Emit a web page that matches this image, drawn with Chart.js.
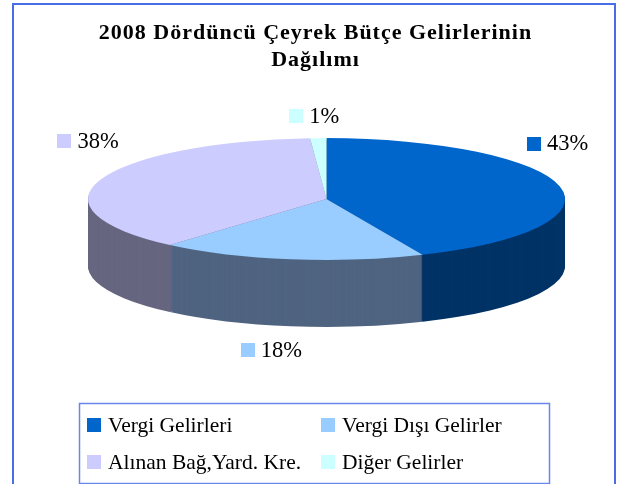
<!DOCTYPE html>
<html><head><meta charset="utf-8">
<script src="https://cdn.jsdelivr.net/npm/chart.js@4.4.0/dist/chart.umd.min.js"></script>
<style>html,body{margin:0;padding:0;background:#fff;overflow:hidden}#wrap{width:627px;height:484px;position:relative}</style>
</head><body><div id="wrap"><canvas id="c" width="627" height="484"></canvas></div>
<script>
const categories = ['Vergi Gelirleri', 'Vergi Dışı Gelirler', 'Alınan Bağ,Yard. Kre.', 'Diğer Gelirler'];
const shares = [43.4, 18.0, 37.5, 1.1];
const percentLabels = ['43%', '18%', '38%', '1%'];
const topColors = ['#0066CC', '#99CCFF', '#CCCCFF', '#CCFFFF'];
const sideColors = ['#003366', '#4F6480', '#666680', '#668080'];
const titleLines = ['2008 Dördüncü Çeyrek Bütçe Gelirlerinin', 'Dağılımı'];

const SERIF = '"Liberation Serif", "Times New Roman", serif';
const BORDER = '#4A6CE6';

const frame = {
  id: 'frame',
  beforeDraw(chart, args, opts) {
    const ctx = chart.ctx;
    ctx.save();
    ctx.fillStyle = '#fff';
    ctx.fillRect(0, 0, chart.width, chart.height);
    ctx.strokeStyle = BORDER;
    ctx.lineWidth = 2;
    ctx.strokeRect(13, 4, 602, 500);
    ctx.restore();
    ctx.save();
    ctx.translate(opts.titleShift, 0);
    ctx.letterSpacing = opts.titleSpacing;
  },
  beforeDatasetsDraw(chart) { chart.ctx.restore(); }
};

const pie3d = {
  id: 'pie3d',
  beforeDatasetsDraw(chart, args, opts) {
    const ctx = chart.ctx, a = chart.chartArea, meta = chart.getDatasetMeta(0);
    const rx = (a.right - a.left) / 2, ry = rx * opts.tilt;
    const depth = (a.bottom - a.top) - 2 * ry;
    const cx = (a.left + a.right) / 2, cy = a.top + ry;
    const arc0 = meta.data[0];
    const R = arc0.outerRadius, ox = arc0.x, oy = arc0.y;
    const apply = (dy) => { ctx.translate(cx, cy + dy); ctx.scale(rx / R, ry / R); ctx.translate(-ox, -oy); };
    for (let d = Math.round(depth); d >= 1; d--) {
      meta.data.forEach((arc, i) => {
        ctx.save();
        apply(d);
        const o = arc.options;
        arc.options = Object.assign({}, o, { backgroundColor: sideColors[i], borderWidth: 0 });
        arc.draw(ctx);
        arc.options = o;
        ctx.restore();
      });
    }
    ctx.save();
    apply(0);
    chart.$pie3d = { cx, cy, rx, ry, depth };
  },
  afterDatasetsDraw(chart) { chart.ctx.restore(); }
};

const pctLabels = {
  id: 'pctLabels',
  afterDraw(chart, args, opts) {
    const g = chart.$pie3d, meta = chart.getDatasetMeta(0), ctx = chart.ctx;
    ctx.save();
    ctx.font = opts.size + 'px ' + SERIF;
    ctx.textBaseline = 'middle';
    ctx.textAlign = 'left';
    meta.data.forEach((arc, i) => {
      const mid = (arc.startAngle + arc.endAngle) / 2;
      const px = g.cx + g.rx * Math.cos(mid), py = g.cy + g.ry * Math.sin(mid);
      const x = px + opts.offsets[i][0], y = py + opts.offsets[i][1];
      ctx.fillStyle = topColors[i];
      ctx.fillRect(Math.round(x), Math.round(y - 7), 14, 14);
      ctx.fillStyle = '#000';
      ctx.fillText(percentLabels[i], x + 20, y + 1);
    });
    ctx.restore();
  }
};

const boxLegend = {
  id: 'boxLegend',
  afterDraw(chart, args, opts) {
    const ctx = chart.ctx;
    ctx.save();
    ctx.strokeStyle = '#6A86EC';
    ctx.lineWidth = 1.5;
    ctx.strokeRect(79.5, 403.5, 470, 80);
    ctx.font = opts.size + 'px ' + SERIF;
    ctx.textBaseline = 'middle';
    ctx.textAlign = 'left';
    categories.forEach((lab, i) => {
      const col = i % 2, row = Math.floor(i / 2);
      const x = opts.cols[col], y = opts.rows[row];
      ctx.fillStyle = topColors[i];
      ctx.fillRect(x, y - 7, 14, 14);
      ctx.fillStyle = '#000';
      ctx.fillText(lab, x + 21, y + 1);
    });
    ctx.restore();
  }
};

new Chart(document.getElementById('c'), {
  type: 'pie',
  data: {
    labels: categories,
    datasets: [{ data: shares, backgroundColor: topColors, borderWidth: 0, clip: false, hoverOffset: 0 }]
  },
  options: {
    responsive: false,
    animation: false,
    events: [],
    rotation: 0,
    layout: { padding: { top: 0, left: 88, right: 62, bottom: 157 } },
    plugins: {
      legend: { display: false },
      tooltip: { enabled: false },
      title: {
        display: true, text: titleLines, color: '#000',
        font: { family: SERIF, size: 22, weight: 'bold', lineHeight: 1.23 },
        padding: { top: 19.5, bottom: 64.5 }
      },
      frame: { titleShift: -11, titleSpacing: '1px' },
      pie3d: { tilt: 0.2555 },
      pctLabels: { size: 22.5, offsets: [[-33, -43], [-50, 91], [-43, -39], [-29, -22]] },
      boxLegend: { size: 21.5, cols: [87, 321], rows: [425, 462] }
    }
  },
  plugins: [frame, pie3d, pctLabels, boxLegend]
});
</script></body></html>
